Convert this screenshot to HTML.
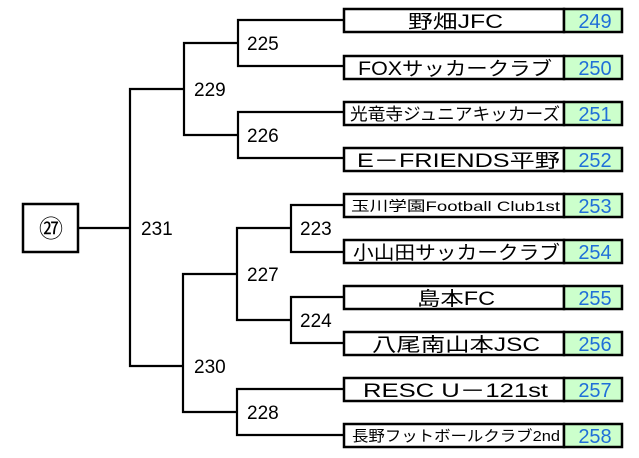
<!DOCTYPE html>
<html><head><meta charset="utf-8"><style>
html,body{margin:0;padding:0;background:#fff;}
svg{display:block;}
text{font-family:"Liberation Sans","Noto Sans CJK JP",sans-serif;}
</style></head><body>
<svg width="639" height="458" viewBox="0 0 639 458" xmlns="http://www.w3.org/2000/svg">
<g stroke="#000" stroke-width="2.2" fill="none">
<polyline points="344,20 238,20 238,66 344,66"/>
<polyline points="344,112 238,112 238,158 344,158"/>
<polyline points="238,43 184,43 184,135 238,135"/>
<polyline points="344,205 291,205 291,252 344,252"/>
<polyline points="344,297 291,297 291,343 344,343"/>
<polyline points="291,228 237,228 237,320 291,320"/>
<polyline points="344,389 237,389 237,435 344,435"/>
<polyline points="237,274 183,274 183,412 237,412"/>
<polyline points="184,89 130,89 130,366 183,366"/>
<line x1="78" y1="228" x2="130" y2="228"/>
<rect x="23" y="204" width="55" height="48" stroke-width="2.5"/>
</g>
<text x="51" y="237" font-size="24" text-anchor="middle">㉗</text>
<g font-size="19" fill="#000">
<text x="247" y="50">225</text>
<text x="194" y="96">229</text>
<text x="247" y="142">226</text>
<text x="141" y="235">231</text>
<text x="300" y="235">223</text>
<text x="247" y="281">227</text>
<text x="300" y="327">224</text>
<text x="194" y="373">230</text>
<text x="247" y="419">228</text>
</g>
<g stroke="#000" stroke-width="2.5">
<rect x="344" y="9" width="220" height="23" fill="#fff"/><rect x="564" y="9" width="58" height="23" fill="#ccffcc"/>
<rect x="344" y="56" width="220" height="23" fill="#fff"/><rect x="564" y="56" width="58" height="23" fill="#ccffcc"/>
<rect x="344" y="102" width="220" height="23" fill="#fff"/><rect x="564" y="102" width="58" height="23" fill="#ccffcc"/>
<rect x="344" y="148" width="220" height="23" fill="#fff"/><rect x="564" y="148" width="58" height="23" fill="#ccffcc"/>
<rect x="344" y="194" width="220" height="23" fill="#fff"/><rect x="564" y="194" width="58" height="23" fill="#ccffcc"/>
<rect x="344" y="240" width="220" height="23" fill="#fff"/><rect x="564" y="240" width="58" height="23" fill="#ccffcc"/>
<rect x="344" y="286" width="220" height="23" fill="#fff"/><rect x="564" y="286" width="58" height="23" fill="#ccffcc"/>
<rect x="344" y="332" width="220" height="23" fill="#fff"/><rect x="564" y="332" width="58" height="23" fill="#ccffcc"/>
<rect x="344" y="378" width="220" height="23" fill="#fff"/><rect x="564" y="378" width="58" height="23" fill="#ccffcc"/>
<rect x="344" y="424" width="220" height="23" fill="#fff"/><rect x="564" y="424" width="58" height="23" fill="#ccffcc"/>
</g>
<g font-size="19" fill="#000">
<text x="408" y="28" textLength="95" lengthAdjust="spacingAndGlyphs">野畑JFC</text>
<text x="358" y="75" textLength="194" lengthAdjust="spacingAndGlyphs">FOXサッカークラブ</text>
<text x="350" y="120" font-size="17" textLength="210" lengthAdjust="spacingAndGlyphs">光竜寺ジュニアキッカーズ</text>
<text x="357" y="167" textLength="203" lengthAdjust="spacingAndGlyphs">E－FRIENDS平野</text>
<text x="351" y="211" font-size="14" textLength="209" lengthAdjust="spacingAndGlyphs">玉川学園Football  Club1st</text>
<text x="353" y="259" textLength="207" lengthAdjust="spacingAndGlyphs">小山田サッカークラブ</text>
<text x="417" y="305" textLength="78" lengthAdjust="spacingAndGlyphs">島本FC</text>
<text x="372" y="351" textLength="168" lengthAdjust="spacingAndGlyphs">八尾南山本JSC</text>
<text x="363" y="397" textLength="185" lengthAdjust="spacingAndGlyphs">RESC U－121st</text>
<text x="352" y="441" font-size="15" textLength="208" lengthAdjust="spacingAndGlyphs">長野フットボールクラブ2nd</text>
</g>
<g font-size="20" fill="#1f6fd8" text-anchor="middle">
<text x="595" y="28">249</text>
<text x="595" y="75">250</text>
<text x="595" y="121">251</text>
<text x="595" y="167">252</text>
<text x="595" y="213">253</text>
<text x="595" y="259">254</text>
<text x="595" y="305">255</text>
<text x="595" y="351">256</text>
<text x="595" y="397">257</text>
<text x="595" y="443">258</text>
</g>
</svg>
</body></html>
